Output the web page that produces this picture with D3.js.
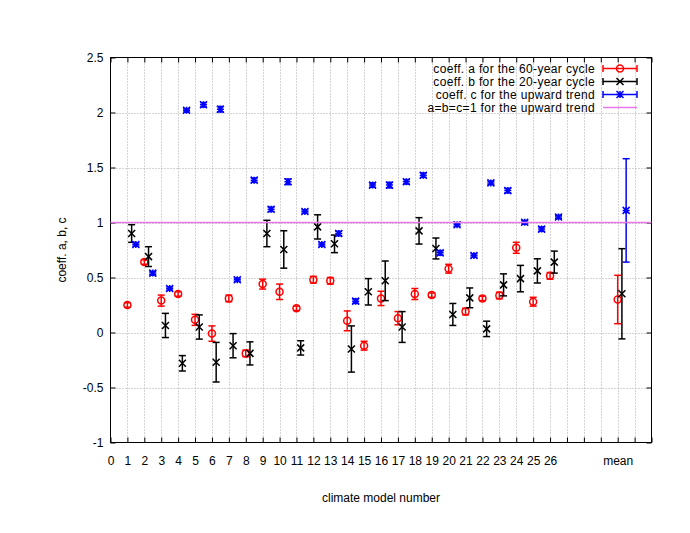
<!DOCTYPE html>
<html><head><meta charset="utf-8">
<script src="https://cdn.jsdelivr.net/npm/d3@7"></script>
<style>body{margin:0;background:#fff}svg{display:block}text{font-family:"Liberation Sans",Arial,sans-serif;font-size:12px;fill:#000}</style>
</head><body>
<svg id="chart" width="690" height="533"></svg>
<script>
// ---- data ----
const modelPos = [1,2,3,4,5,6,7,8,9,10,11,12,13,14,15,16,17,18,19,20,21,22,23,24,25,26,30];
const aVal = [0.25,0.64,0.29,0.35,0.115,-0.01,0.31,-0.19,0.44,0.37,0.22,0.48,0.47,0.106,-0.12,0.31,0.13,0.35,0.34,0.58,0.19,0.31,0.336,0.77,0.28,0.515,0.30];
const aErr = [0.02,0.02,0.05,0.02,0.05,0.07,0.03,0.03,0.045,0.07,0.02,0.03,0.03,0.09,0.04,0.065,0.06,0.05,0.02,0.04,0.03,0.02,0.03,0.05,0.04,0.03,0.22];
const bVal = [0.90,0.69,0.064,-0.28,0.05,-0.27,-0.12,-0.19,0.90,0.755,-0.14,0.96,0.806,-0.15,0.37,0.47,0.05,0.924,0.764,0.164,0.315,0.033,0.433,0.49,0.56,0.64,0.352];
const bErr = [0.08,0.09,0.11,0.07,0.11,0.18,0.11,0.105,0.12,0.17,0.065,0.11,0.08,0.21,0.12,0.18,0.14,0.12,0.095,0.10,0.09,0.07,0.10,0.12,0.11,0.10,0.41];
const cVal = [0.80,0.54,0.40,2.02,2.07,2.03,0.48,1.385,1.12,1.37,1.10,0.80,0.90,0.285,1.34,1.34,1.37,1.43,0.724,0.98,0.70,1.36,1.29,1.003,0.94,1.05,1.11];
const cErr = [0.015,0.015,0.015,0.015,0.02,0.025,0.015,0.02,0.02,0.025,0.015,0.015,0.02,0.02,0.02,0.025,0.02,0.02,0.02,0.015,0.015,0.015,0.02,0.015,0.02,0.015,0.47];
const xTickValues = d3.range(0, 33);
const xTickLabels = ["0","1","2","3","4","5","6","7","8","9","10","11","12","13","14","15","16","17","18","19","20","21","22","23","24","25","26","","","","mean","",""];
const yTickValues = [-1,-0.5,0,0.5,1,1.5,2,2.5];
const yTickLabels = ["-1","-0.5","0","0.5","1","1.5","2","2.5"];
const legendLabels = ["coeff. a for the 60-year cycle","coeff. b for the 20-year cycle","coeff. c for the upward trend","a=b=c=1 for the upward trend"];
const refLevel = 1;
const xTitle = "climate model number";
const yTitle = "coeff. a, b, c";

// ---- layout ----
const L = 110.5, R = 651.5, T = 57.5, B = 442.5;
const svg = d3.select("#chart");
const x = d3.scaleLinear().domain([0, 32]).range([L, R]);
const y = d3.scaleLinear().domain([-1, 2.5]).range([B, T]);

// grid
const grid = svg.append("g").attr("stroke", "#a8a8a8").attr("stroke-width", 1).attr("stroke-dasharray", "1,2");
grid.selectAll(".gx").data(xTickValues.filter(v => v > 0 && v < 32)).enter().append("line")
  .attr("x1", d => Math.round(x(d)) + 0.5).attr("x2", d => Math.round(x(d)) + 0.5).attr("y1", T).attr("y2", B);
grid.selectAll(".gy").data(yTickValues.filter(v => v > -1 && v < 2.5)).enter().append("line")
  .attr("y1", d => Math.round(y(d)) + 0.5).attr("y2", d => Math.round(y(d)) + 0.5).attr("x1", L).attr("x2", R);

// axes
const tickLen = 5;
const axB = svg.append("g").attr("transform", `translate(0,${B})`)
  .call(d3.axisBottom(x).tickValues(xTickValues).tickSize(-tickLen).tickPadding(tickLen + 9).tickFormat((d, i) => xTickLabels[i]));
const axT = svg.append("g").attr("transform", `translate(0,${T})`)
  .call(d3.axisTop(x).tickValues(xTickValues).tickSize(-tickLen).tickFormat(""));
const axL = svg.append("g").attr("transform", `translate(${L},0)`)
  .call(d3.axisLeft(y).tickValues(yTickValues).tickSize(-tickLen).tickPadding(7).tickFormat((d, i) => yTickLabels[i]));
const axRt = svg.append("g").attr("transform", `translate(${R},0)`)
  .call(d3.axisRight(y).tickValues(yTickValues).tickSize(-tickLen).tickFormat(""));
[axB, axT, axL, axRt].forEach(a => {
  a.select(".domain").remove();
  a.selectAll(".tick line").attr("stroke", "#000").attr("stroke-width", 1);
  a.selectAll(".tick text").attr("font-family", "Liberation Sans, Arial, sans-serif").attr("font-size", 12).attr("fill", "#000");
});
svg.append("rect").attr("x", L).attr("y", T).attr("width", R - L).attr("height", B - T)
  .attr("fill", "none").attr("stroke", "#000").attr("stroke-width", 1);

// titles
svg.append("text").attr("x", (L + R) / 2).attr("y", 502).attr("text-anchor", "middle").text(xTitle);
svg.append("text").attr("transform", `translate(66,${(T + B) / 2}) rotate(-90)`).attr("text-anchor", "middle").text(yTitle);

// series
const cap = 3.5, ms = 3.5;
function drawSeries(vals, errs, off, color, marker) {
  const g = svg.append("g").attr("stroke", color).attr("fill", "none").attr("stroke-width", 1.5);
  vals.forEach((v, i) => {
    const cx = x(modelPos[i] + off), cy = y(v), y1 = y(v - errs[i]), y2 = y(v + errs[i]);
    g.append("line").attr("x1", cx).attr("x2", cx).attr("y1", y1).attr("y2", y2);
    g.append("line").attr("x1", cx - cap).attr("x2", cx + cap).attr("y1", y1).attr("y2", y1);
    g.append("line").attr("x1", cx - cap).attr("x2", cx + cap).attr("y1", y2).attr("y2", y2);
    marker(g, cx, cy);
  });
}
const circleM = (g, cx, cy) => g.append("circle").attr("cx", cx).attr("cy", cy).attr("r", ms);
const crossM = (g, cx, cy) => g.append("path").attr("d", `M${cx-ms},${cy-ms}L${cx+ms},${cy+ms}M${cx-ms},${cy+ms}L${cx+ms},${cy-ms}`);
const starM = (g, cx, cy) => g.append("path").attr("d", `M${cx-ms},${cy-ms}L${cx+ms},${cy+ms}M${cx-ms},${cy+ms}L${cx+ms},${cy-ms}M${cx-ms},${cy}L${cx+ms},${cy}M${cx},${cy-ms}L${cx},${cy+ms}`);

drawSeries(aVal, aErr, 0, "#ff0000", circleM);
drawSeries(bVal, bErr, 0.25, "#000000", crossM);
drawSeries(cVal, cErr, 0.5, "#0000ff", starM);

// reference line
svg.append("line").attr("x1", L).attr("x2", R).attr("y1", y(refLevel)).attr("y2", y(refLevel))
  .attr("stroke", "#e878e8").attr("stroke-width", 1.5);

// legend
const legColors = ["#ff0000", "#000000", "#0000ff", "#e878e8"];
const legMarkers = [circleM, crossM, starM, null];
const lx1 = 603, lx2 = 637, lxc = 620;
legendLabels.forEach((t, i) => {
  const ly = 68.5 + i * 13;
  svg.append("text").attr("x", 595).attr("y", ly + 4).attr("text-anchor", "end")
    .attr("font-size", 11).attr("letter-spacing", 0.35).text(t);
  const g = svg.append("g").attr("stroke", legColors[i]).attr("fill", "none").attr("stroke-width", 1.5);
  g.append("line").attr("x1", lx1).attr("x2", lx2).attr("y1", ly).attr("y2", ly);
  if (legMarkers[i]) {
    g.append("line").attr("x1", lx1).attr("x2", lx1).attr("y1", ly - cap).attr("y2", ly + cap);
    g.append("line").attr("x1", lx2).attr("x2", lx2).attr("y1", ly - cap).attr("y2", ly + cap);
    legMarkers[i](g, lxc, ly);
  }
});
</script>
</body></html>
